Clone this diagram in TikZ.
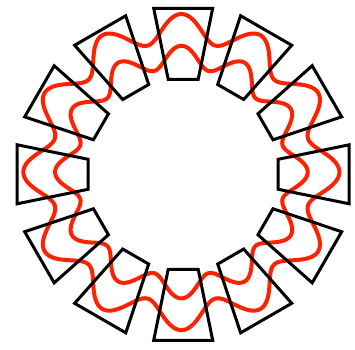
\documentclass[tikz,border=0pt]{standalone}
\usepackage{tikz}
\definecolor{cWire}{RGB}{255,34,0}
\tikzset{
	tooth/.style={draw=black, line width=0.06cm},
	wire/.style={draw=cWire, line width=0.08cm},
}
\begin{document}
\begin{tikzpicture}[x=0.02cm, y=0.02cm]
	\useasboundingbox (-182,-176.5) rectangle (173,173.5);
	% two wavy coils
	\foreach \rr in {144.5, 115.5} {
		\draw[wire, shift={(-0.6,1.4)}] plot[domain=0:359, samples=360, smooth cycle] (\x:{\rr*(1+0.094*cos(12*\x))});
	}
	% stator teeth
	\foreach \ang in {0,30,...,330} {
		\draw[tooth, shift={(1.2,-0.8)}, rotate=\ang] (95,-15) -- (166,-29.5) -- (166,29.5) -- (95,15) -- cycle;
	}
\end{tikzpicture}
\end{document}
